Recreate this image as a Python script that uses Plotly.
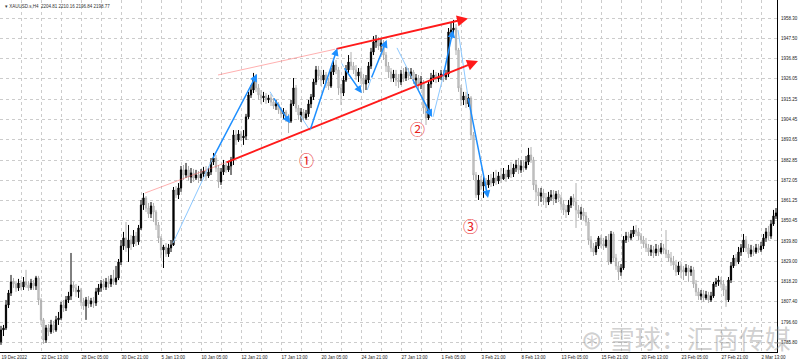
import plotly.graph_objects as go

first_open = 1786.1
closes = [1792.4,1793.5,1805.7,1812.1,1818.0,1816.9,1814.8,1817.4,1815.3,1818.0,
1816.4,1814.8,1817.4,1815.9,1820.1,1808.4,1797.8,1787.1,1793.5,1791.4,
1795.1,1792.4,1797.8,1798.8,1805.7,1804.1,1808.4,1810.5,1816.4,1814.8,
1812.7,1813.7,1807.3,1805.2,1808.4,1806.3,1807.9,1806.8,1812.7,1814.8,
1816.9,1815.3,1818.0,1816.9,1819.6,1818.0,1820.1,1828.6,1837.1,1841.4,
1836.1,1840.3,1838.2,1842.4,1839.3,1846.7,1858.9,1862.7,1857.3,1854.2,
1858.4,1855.2,1848.3,1841.4,1835.0,1836.6,1832.9,1836.1,1837.7,1866.9,
1864.3,1868.0,1877.6,1874.9,1877.6,1873.8,1876.0,1873.3,1874.9,1873.3,
1875.4,1877.0,1874.4,1876.5,1881.8,1883.9,1878.6,1871.2,1876.5,1880.2,
1877.6,1879.7,1882.9,1896.2,1893.5,1896.7,1894.6,1895.6,1905.8,1917.5,
1920.1,1926.5,1921.2,1917.5,1915.9,1916.9,1914.8,1915.9,1913.7,1911.6,
1912.7,1909.5,1907.4,1908.4,1905.2,1903.6,1912.7,1921.2,1910.5,1906.8,
1908.4,1905.2,1907.4,1912.7,1916.4,1924.4,1930.8,1927.6,1925.4,1928.1,
1924.4,1922.2,1929.7,1933.4,1930.8,1921.2,1918.5,1925.4,1930.8,1935.0,
1932.9,1930.8,1927.6,1929.7,1926.5,1923.3,1925.4,1932.9,1940.3,1945.7,
1946.7,1943.5,1945.1,1938.7,1932.9,1929.7,1926.5,1928.6,1925.4,1924.4,
1928.6,1926.5,1929.7,1927.6,1929.7,1925.4,1926.5,1923.3,1924.4,1910.5,
1905.2,1923.3,1926.5,1928.1,1926.0,1927.0,1928.6,1927.0,1928.6,1951.0,
1952.0,1953.1,1941.4,1921.2,1914.8,1916.9,1912.7,1915.9,1896.2,1874.9,
1864.3,1872.2,1869.0,1871.2,1869.6,1872.2,1870.6,1873.3,1871.7,1874.4,
1872.8,1875.4,1873.8,1877.6,1875.4,1878.6,1880.2,1877.6,1879.7,1878.6,
1881.8,1885.5,1882.9,1869.6,1865.9,1863.7,1865.3,1862.7,1860.5,1863.2,
1864.3,1862.1,1864.8,1862.7,1859.5,1856.3,1855.2,1858.9,1862.7,1860.5,
1856.3,1854.2,1855.2,1853.1,1849.9,1840.3,1836.1,1833.9,1837.1,1841.4,
1838.2,1837.1,1840.3,1828.6,1843.5,1830.7,1826.5,1823.3,1825.4,1840.3,
1842.4,1841.4,1843.5,1845.6,1844.6,1842.4,1840.3,1838.2,1836.1,1833.9,
1835.0,1833.4,1835.5,1833.9,1836.1,1835.0,1832.9,1830.7,1828.6,1827.0,
1823.3,1826.5,1824.4,1823.3,1825.4,1823.3,1824.4,1816.9,1812.7,1810.5,
1811.6,1809.5,1811.1,1808.4,1810.5,1816.9,1818.0,1819.0,1816.9,1813.7,
1808.4,1819.0,1826.5,1830.7,1828.6,1833.9,1836.1,1840.3,1836.1,1832.9,
1835.0,1833.9,1836.1,1835.0,1837.1,1841.4,1844.6,1842.4,1848.8,1853.1,
1854.7]
highs = [1794.6,1795.1,1808.4,1813.7,1821.7,1820.1,1818.5,1819.6,1819.0,1820.6,
1824.4,1818.5,1819.6,1819.0,1821.2,1821.2,1809.5,1798.8,1795.1,1795.6,
1797.8,1797.2,1799.9,1802.0,1807.3,1808.4,1810.5,1812.7,1833.4,1818.0,
1816.9,1815.9,1814.8,1809.5,1810.0,1810.5,1809.5,1810.0,1814.8,1816.9,
1819.0,1819.6,1820.1,1821.2,1821.7,1824.4,1826.5,1830.2,1840.3,1844.6,
1849.9,1848.3,1843.0,1845.6,1844.6,1848.3,1861.6,1865.3,1863.7,1860.0,
1860.5,1860.0,1856.3,1849.9,1842.4,1837.7,1838.7,1838.2,1840.3,1868.5,
1869.0,1870.6,1879.7,1880.2,1881.3,1879.7,1878.6,1878.1,1877.6,1877.0,
1878.1,1879.2,1879.7,1879.2,1883.9,1886.6,1885.5,1880.2,1878.6,1882.9,
1882.3,1882.3,1884.5,1898.8,1898.8,1898.8,1898.3,1898.8,1907.4,1919.1,
1922.8,1929.2,1928.6,1923.3,1920.1,1919.1,1918.5,1917.5,1918.0,1915.9,
1914.8,1913.7,1911.1,1910.5,1909.5,1907.4,1914.8,1926.5,1922.8,1912.1,
1910.5,1910.0,1909.5,1914.8,1918.0,1926.0,1932.9,1932.9,1930.8,1930.8,
1929.7,1926.5,1931.8,1936.1,1936.1,1932.4,1923.3,1927.6,1933.4,1938.7,
1940.3,1935.0,1933.4,1931.8,1931.8,1928.6,1928.1,1935.0,1942.5,1948.8,
1949.4,1948.3,1947.3,1946.7,1940.3,1935.0,1931.8,1930.8,1930.8,1928.6,
1930.8,1931.8,1932.4,1931.8,1931.8,1930.8,1928.6,1928.1,1927.6,1925.4,
1912.7,1925.4,1929.2,1930.8,1929.7,1929.2,1930.8,1930.8,1930.8,1953.1,
1956.3,1957.4,1955.2,1942.5,1922.8,1919.1,1919.1,1918.0,1916.9,1897.8,
1876.5,1874.9,1874.4,1874.4,1873.3,1874.9,1875.4,1876.5,1877.6,1876.5,
1878.6,1878.6,1877.6,1880.2,1881.8,1880.8,1882.9,1883.9,1882.9,1882.9,
1885.0,1889.3,1889.8,1884.5,1872.2,1868.0,1868.0,1867.5,1865.3,1865.9,
1866.9,1866.9,1866.4,1866.9,1864.3,1861.6,1858.9,1861.6,1863.7,1864.8,
1870.6,1858.9,1857.9,1857.3,1855.2,1852.0,1842.4,1838.7,1839.3,1842.4,
1843.0,1841.4,1842.4,1843.5,1845.1,1844.6,1832.9,1828.6,1827.5,1842.4,
1844.6,1844.6,1845.6,1847.8,1848.3,1846.7,1844.0,1842.4,1841.4,1838.2,
1837.7,1837.1,1838.2,1837.7,1838.7,1838.2,1845.6,1835.0,1833.9,1831.8,
1829.7,1828.6,1828.6,1826.5,1827.5,1827.0,1826.5,1826.0,1819.0,1814.8,
1813.7,1813.7,1813.2,1812.7,1812.7,1818.0,1820.1,1821.2,1820.6,1819.0,
1815.9,1820.6,1828.6,1832.3,1832.9,1836.6,1838.2,1843.5,1842.4,1838.2,
1837.7,1837.1,1838.2,1838.2,1839.3,1843.5,1846.7,1847.8,1851.0,1856.3,
1857.3]
lows = [1784.5,1789.2,1792.4,1804.1,1810.5,1814.8,1812.7,1813.2,1813.7,1813.7,
1814.8,1813.2,1813.7,1813.7,1813.7,1805.7,1795.1,1785.0,1785.5,1789.2,
1790.3,1790.8,1791.4,1795.1,1797.8,1802.0,1802.5,1806.8,1808.4,1812.7,
1810.0,1809.5,1805.2,1803.1,1797.8,1804.1,1804.7,1804.1,1805.2,1811.1,
1812.7,1813.7,1813.7,1814.8,1815.3,1816.4,1816.4,1819.0,1827.0,1835.0,
1833.9,1828.6,1835.0,1836.6,1837.1,1837.7,1845.6,1856.3,1855.2,1852.0,
1852.0,1849.9,1845.6,1838.7,1830.7,1825.4,1831.3,1831.3,1833.9,1837.1,
1862.7,1862.1,1865.9,1872.2,1873.3,1871.7,1870.6,1871.2,1872.2,1870.6,
1871.7,1873.8,1872.2,1873.3,1874.9,1880.2,1876.5,1868.0,1869.6,1874.9,
1876.0,1876.5,1874.9,1880.2,1890.9,1892.5,1893.0,1890.9,1893.5,1904.7,
1915.9,1918.5,1919.1,1914.8,1912.7,1913.7,1912.7,1913.2,1911.6,1910.0,
1909.5,1907.4,1905.2,1904.7,1903.1,1897.2,1902.6,1911.6,1908.4,1904.2,
1903.1,1903.6,1904.2,1905.8,1910.5,1914.8,1922.8,1925.4,1922.2,1923.3,
1921.2,1920.1,1921.2,1928.1,1928.6,1917.5,1912.1,1916.9,1924.4,1929.2,
1930.8,1928.6,1925.4,1924.4,1923.3,1918.5,1920.1,1923.8,1931.3,1938.7,
1942.5,1941.4,1940.3,1936.1,1929.7,1926.5,1924.4,1924.4,1922.2,1921.2,
1922.8,1924.4,1924.9,1925.4,1926.0,1923.3,1922.2,1920.1,1920.6,1907.4,
1901.5,1904.2,1921.2,1924.4,1923.8,1924.4,1925.4,1924.4,1925.4,1927.0,
1948.8,1949.9,1938.7,1919.1,1911.6,1912.1,1910.5,1911.1,1893.5,1872.2,
1862.7,1861.6,1866.9,1862.7,1866.9,1868.0,1868.5,1869.0,1869.6,1870.1,
1870.6,1872.2,1871.2,1872.8,1873.3,1873.8,1876.5,1875.4,1876.0,1876.5,
1877.6,1880.2,1881.3,1866.9,1861.6,1858.4,1860.5,1858.9,1857.3,1858.9,
1861.1,1858.9,1860.0,1860.5,1856.3,1853.6,1852.0,1853.6,1857.3,1858.4,
1846.7,1852.0,1851.0,1851.0,1847.8,1837.7,1833.9,1831.8,1832.3,1835.5,
1836.1,1835.0,1836.1,1827.0,1827.5,1828.6,1824.4,1819.0,1821.2,1824.4,
1838.7,1839.3,1840.3,1841.9,1842.4,1840.3,1838.2,1836.1,1833.9,1831.8,
1831.8,1830.7,1831.8,1831.8,1832.9,1832.9,1830.7,1828.6,1826.5,1824.4,
1821.2,1821.7,1820.1,1819.0,1821.2,1818.0,1821.2,1814.8,1810.5,1808.4,
1808.4,1807.3,1808.4,1806.8,1807.3,1809.5,1815.3,1815.9,1814.8,1810.5,
1804.7,1807.3,1817.4,1825.4,1826.5,1827.5,1831.8,1833.9,1833.9,1830.7,
1831.3,1831.8,1832.9,1833.4,1833.9,1835.5,1839.3,1840.3,1840.9,1847.8,
1851.5]
opens = [first_open] + closes[:-1]
bars = list(range(len(closes)))

tick_bars = [0, 16, 32, 48, 64, 80, 96, 112, 128, 144, 160, 176, 192, 208, 224, 240, 256, 272, 288, 304]
tick_text = ["19 Dec 2022", "22 Dec 13:00", "28 Dec 05:00", "30 Dec 21:00", "5 Jan 13:00",
             "10 Jan 05:00", "12 Jan 21:00", "17 Jan 13:00", "20 Jan 05:00", "24 Jan 21:00",
             "27 Jan 13:00", "1 Feb 05:00", "3 Feb 21:00", "8 Feb 13:00", "13 Feb 05:00",
             "15 Feb 21:00", "20 Feb 13:00", "23 Feb 05:00", "27 Feb 21:00", "2 Mar 13:00"]
grid_bars = [8 + 16 * k for k in range(20)]
price_ticks = [1958.30, 1947.50, 1936.85, 1926.05, 1915.25, 1904.45, 1893.65, 1882.85,
               1872.05, 1861.25, 1850.45, 1839.80, 1829.00, 1818.20, 1807.40, 1796.60, 1785.80]

# channel lines and wave arrows: (bar, price) endpoints
upper_faint = [(86.8, 1928.1), (133.6, 1941.8)]
upper_main = [(133.6, 1941.8), (186.8, 1958.2)]
lower_faint = [(57.6, 1865.3), (89.6, 1881.3)]
lower_main = [(89.6, 1881.3), (190.8, 1935.5)]
waves = [
    [(68.8, 1838.7), (84.4, 1882.9), (102.4, 1928.6)],
    [(107.6, 1919.2), (108.8, 1916.5), (115.6, 1902.4)],
    [(119.6, 1906.8), (123.6, 1898.5), (134.5, 1942.3)],
    [(136.3, 1934.3), (137.0, 1932.5), (144.3, 1918.4)],
    [(146.5, 1920.1), (148.0, 1926.0), (154.3, 1946.7)],
    [(158.4, 1942.5), (164.4, 1926.5), (172.4, 1905.8)],
    [(172.8, 1905.8), (176.8, 1927.0), (180.8, 1952.0)],
    [(182.8, 1952.0), (186.8, 1916.4), (194.8, 1862.7)],
]
labels = [("①", 122.0, 1882.9), ("②", 166.4, 1899.4), ("③", 187.6, 1847.8)]

fig = go.Figure()
fig.add_trace(go.Candlestick(
    x=bars, open=opens, high=highs, low=lows, close=closes,
    increasing=dict(line=dict(color="#000000", width=1), fillcolor="#000000"),
    decreasing=dict(line=dict(color="#b0b0b0", width=1), fillcolor="#d6d6d6"),
    whiskerwidth=0, showlegend=False, hoverinfo="skip"))

def seg(pts, color, width):
    fig.add_trace(go.Scatter(x=[p[0] for p in pts], y=[p[1] for p in pts], mode="lines",
                             line=dict(color=color, width=width), showlegend=False,
                             hoverinfo="skip"))

seg(upper_faint, "rgba(255,80,80,0.45)", 1)
seg(lower_faint, "rgba(255,80,80,0.45)", 1)

annotations = []

def arrow(p0, p1, color, width, head=2, size=1.0):
    annotations.append(dict(x=p1[0], y=p1[1], ax=p0[0], ay=p0[1], xref="x", yref="y",
                            axref="x", ayref="y", showarrow=True, arrowhead=head,
                            arrowsize=size, arrowwidth=width, arrowcolor=color, text=""))

arrow(upper_main[0], upper_main[1], "#ff1a1a", 2, head=2, size=1.1)
arrow(lower_main[0], lower_main[1], "#ff1a1a", 2, head=2, size=1.1)
for w in waves:
    seg([w[0], w[1]], "#8cc8ff", 1)
    arrow(w[1], w[2], "#1e8fff", 1.5, head=2, size=1.0)

for t, bx, py in labels:
    annotations.append(dict(x=bx, y=py, xref="x", yref="y", text=t, showarrow=False,
                            font=dict(family="Noto Sans CJK SC", size=15, color="#e8231e")))

annotations.append(dict(x=0.004, y=0.995, xref="paper", yref="paper", xanchor="left",
                        yanchor="top", showarrow=False,
                        text="▾ XAUUSD.s,H4  2204.81 2210.16 2196.84 2198.77",
                        font=dict(family="Liberation Sans", size=4.5, color="#333333")))
annotations.append(dict(x=1.02, y=0.04, xref="paper", yref="paper", xanchor="right",
                        yanchor="middle", showarrow=False, text="⊛ 雪球：汇商传媒",
                        font=dict(family="Noto Sans CJK SC", size=26,
                                  color="rgba(150,150,150,0.45)")))

fig.update_layout(
    template="none",
    width=800, height=364, margin=dict(l=0, r=23, t=0, b=12, pad=0),
    paper_bgcolor="white", plot_bgcolor="white",
    font=dict(family="Liberation Sans", size=4.5, color="#222222"),
    annotations=annotations,
    xaxis=dict(range=[-0.4, 310.4], rangeslider=dict(visible=False), automargin=False,
               tickmode="array", tickvals=tick_bars, ticktext=tick_text,
               ticklabelposition="outside right", ticks="", ticklabelstandoff=1,
               showline=True, linecolor="#000", linewidth=1,
               showgrid=True, gridcolor="#cccccc", griddash="dot", gridwidth=1,
               minor=dict(tickvals=grid_bars, showgrid=True, gridcolor="#cccccc",
                          griddash="dot", gridwidth=1),
               zeroline=False, tickfont=dict(size=4.5, color="#222222")),
    yaxis=dict(range=[1780.7, 1968.0], side="right", tickmode="array", automargin=False,
               tickvals=price_ticks, ticktext=[f"{v:.2f}" for v in price_ticks],
               ticks="", ticklabelstandoff=2,
               showline=True, linecolor="#000", linewidth=1,
               showgrid=True, gridcolor="#cccccc", griddash="dot", gridwidth=1,
               zeroline=False, tickfont=dict(size=4.5, color="#222222")),
)

fig.write_html("out.html", config={"displayModeBar": False},
               post_script="document.body.style.margin='0';document.body.style.overflow='hidden';")
